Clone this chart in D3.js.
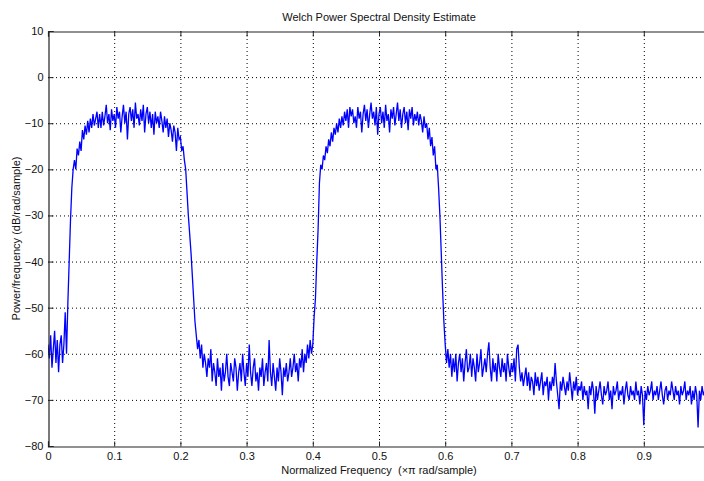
<!DOCTYPE html>
<html>
<head>
<meta charset="utf-8">
<script src="https://cdn.jsdelivr.net/npm/d3@7"></script>
<style>
  body { margin: 0; background: #fff; }
  svg { display: block; font-family: "Liberation Sans", Arial, sans-serif; }
</style>
</head>
<body>
<div id="chart"></div>
<script>
// frequency grid step (x pi rad/sample) and PSD values (dB/rad/sample)
const freqStep = 0.002;
const psd = [
  -58, -61, -56, -63, -59, -55, -62, -57, -64, -58,           // 0.00
  -56, -62, -58, -51, -60, -49, -40, -31, -24, -20,           // 0.02
  -18, -20, -15.5, -17, -14, -16, -11.5, -13.5, -10.5, -12.5, // 0.04
  -9.5, -12, -9, -11, -8, -10.5, -9, -7.5, -11, -8,           // 0.06
  -11, -7.5, -10.5, -8.5, -6, -10, -8, -11.5, -7, -9.5,       // 0.08
  -8, -11, -6.5, -9, -7.5, -12, -8.5, -6, -10, -7.5,          // 0.10
  -13.5, -8, -6.5, -9.5, -7, -11, -5.5, -9, -8, -10.5,        // 0.12
  -7, -9.5, -6, -12, -8, -6.5, -10, -7.5, -11, -8,            // 0.14
  -12.5, -7.5, -10, -8.5, -11, -7.5, -9.5, -12, -8.5, -11,    // 0.16
  -9, -13, -10, -11.5, -14, -10.5, -12, -16, -11, -13.5,      // 0.18
  -13, -16, -15, -18, -20, -25, -30, -34, -38, -43,           // 0.20
  -48, -53, -56, -59, -57, -61, -58, -63, -60, -62,           // 0.22
  -65, -61, -63, -59, -66, -62, -64, -67, -61, -65,           // 0.24
  -63, -68, -62, -66, -64, -60, -65, -67, -62, -64,           // 0.26
  -66, -61, -63, -68, -64, -62, -66, -60, -64, -67,           // 0.28
  -62, -65, -58, -64, -67, -63, -61, -66, -64, -68,           // 0.30
  -63, -65, -61, -67, -64, -62, -66, -57, -64, -67,           // 0.32
  -62, -65, -68, -63, -66, -61, -64, -69, -63, -65,           // 0.34
  -62, -66, -64, -61, -65, -63, -60, -64, -62, -66,           // 0.36
  -61, -63, -59, -64, -60, -62, -58, -61, -57, -60,           // 0.38
  -58, -52, -48, -40, -33, -23, -19, -20, -17, -18,           // 0.40
  -15, -16.5, -13.5, -15, -12, -14, -11, -12.5, -10, -12,     // 0.42
  -9, -11, -8.5, -10.5, -7.5, -9.5, -7, -11, -6.5, -8.5,      // 0.44
  -7, -10, -8.5, -11, -6.5, -9, -7.5, -12, -8, -6,            // 0.46
  -9.5, -7, -11, -8, -5.5, -9, -7.5, -10.5, -6.5, -12.5,      // 0.48
  -8, -6.5, -10, -7.5, -11, -6, -9.5, -8, -12, -7,            // 0.50
  -9, -6.5, -10.5, -8, -5.5, -9.5, -7, -11, -8, -6.5,         // 0.52
  -10, -7.5, -11.5, -7, -9, -6.5, -10.5, -8, -9.5, -7.5,      // 0.54
  -10.5, -8, -9.5, -12, -8.5, -11, -10, -13.5, -11, -15,      // 0.56
  -13, -17, -15, -20, -19, -24, -30, -38, -46, -53,           // 0.58
  -58, -62, -59, -63, -60, -65, -61, -64, -60, -66,           // 0.60
  -62, -60, -64, -61, -66, -62, -59, -64, -63, -60,           // 0.62
  -65, -61, -63, -66, -60, -64, -62, -59, -65, -63,           // 0.64
  -61, -64, -60, -57.5, -63, -66, -61, -64, -62, -66,         // 0.66
  -60, -63, -65, -61, -64, -62, -66, -60, -63, -65,           // 0.68
  -62, -64, -61, -66, -59, -58, -63, -66, -64, -67,           // 0.70
  -65, -63, -67, -64, -68, -65, -66, -69, -64, -67,           // 0.72
  -65, -68, -66, -64, -69, -66, -67, -65, -70, -66,           // 0.74
  -68, -65, -67, -62, -66, -69, -72, -66, -68, -65,           // 0.76
  -67, -69, -66, -68, -64, -67, -70, -66, -68, -65,           // 0.78
  -69, -67, -68, -66, -70, -67, -69, -68, -72, -67,           // 0.80
  -69, -66, -68, -73, -67, -70, -68, -66, -69, -71,           // 0.82
  -67, -69, -68, -66, -70, -68, -72, -67, -69, -68,           // 0.84
  -66, -70, -68, -69, -67, -71, -68, -66, -69, -70,           // 0.86
  -67, -69, -68, -70, -66, -69, -68, -71, -67, -69,           // 0.88
  -75.5, -68, -70, -67, -69, -68, -66, -70, -68, -69,         // 0.90
  -67, -70, -68, -66, -69, -71, -68, -67, -70, -68,           // 0.92
  -69, -66, -68, -70, -67, -69, -68, -71, -67, -69,           // 0.94
  -68, -66, -70, -68, -69, -67, -71, -68, -70, -67,           // 0.96
  -69, -76, -68, -70, -67, -69, -68, -70, -67, -69            // 0.98
];
const xTicks = [0, 0.1, 0.2, 0.3, 0.4, 0.5, 0.6, 0.7, 0.8, 0.9];
const yTicks = [-80, -70, -60, -50, -40, -30, -20, -10, 0, 10];

const width = 704, height = 481;
const plotLeft = 48, plotTop = 31, plotRight = 710, plotBottom = 446;

const svg = d3.select("#chart").append("svg")
  .attr("width", width)
  .attr("height", height);

const x = d3.scaleLinear().domain([0, 1]).range([plotLeft, plotRight]);
const y = d3.scaleLinear().domain([-80, 10]).range([plotBottom, plotTop]);

//Grid lines, MATLAB style dotted
svg.append("g").selectAll("line")
  .data(xTicks.slice(1))
  .enter().append("line")
  .attr("x1", d => x(d) + 0.5).attr("x2", d => x(d) + 0.5)
  .attr("y1", plotTop).attr("y2", plotBottom)
  .attr("stroke", "#000").attr("stroke-width", 1)
  .attr("stroke-dasharray", "1,3");
svg.append("g").selectAll("line")
  .data(yTicks.slice(1, -1))
  .enter().append("line")
  .attr("y1", d => y(d) + 0.5).attr("y2", d => y(d) + 0.5)
  .attr("x1", plotLeft).attr("x2", plotRight)
  .attr("stroke", "#000").attr("stroke-width", 1)
  .attr("stroke-dasharray", "1,3");

//PSD line
svg.append("clipPath").attr("id", "clip")
  .append("rect").attr("x", plotLeft).attr("y", plotTop)
  .attr("width", plotRight - plotLeft).attr("height", plotBottom - plotTop);

const line = d3.line()
  .x((d, i) => x(i * freqStep))
  .y(d => y(d));

svg.append("path")
  .datum(psd)
  .attr("clip-path", "url(#clip)")
  .attr("fill", "none")
  .attr("stroke", "#0000ff")
  .attr("stroke-width", 1.3)
  .attr("d", line);

//Axes with inward ticks
const xAxis = d3.axisBottom(x).tickValues(xTicks).tickSize(-5).tickPadding(6)
  .tickFormat(d => d === 0 ? "0" : d3.format(".1f")(d));
const yAxis = d3.axisLeft(y).tickValues(yTicks).tickSize(-5).tickPadding(5)
  .tickFormat(d3.format("d"));

const gx = svg.append("g").attr("transform", `translate(0,${plotBottom + 0.5})`).call(xAxis);
const gy = svg.append("g").attr("transform", `translate(${plotLeft + 0.5},0)`).call(yAxis);
const gt = svg.append("g").attr("transform", `translate(0,${plotTop + 0.5})`)
  .call(d3.axisTop(x).tickValues(xTicks).tickSize(-5).tickFormat(""));

[gx, gy, gt].forEach(g => {
  g.select(".domain").attr("stroke", "#222").attr("stroke-width", 1.2);
  g.selectAll(".tick line").attr("stroke", "#222");
  g.selectAll(".tick text").attr("fill", "#111")
    .style("font-size", "11px")
    .style("font-family", "'Liberation Sans', Arial, sans-serif");
});

//Titles
svg.append("text")
  .attr("x", (plotLeft + plotRight) / 2).attr("y", 21)
  .attr("text-anchor", "middle")
  .style("font-size", "11px").attr("fill", "#111")
  .text("Welch Power Spectral Density Estimate");

svg.append("text")
  .attr("x", (plotLeft + plotRight) / 2).attr("y", 474)
  .attr("text-anchor", "middle")
  .style("font-size", "11px").attr("fill", "#111")
  .attr("xml:space", "preserve")
  .text("Normalized Frequency  (\u00d7\u03c0 rad/sample)");

svg.append("text")
  .attr("transform", `translate(20,${(plotTop + plotBottom) / 2}) rotate(-90)`)
  .attr("text-anchor", "middle")
  .style("font-size", "11px").attr("fill", "#111")
  .text("Power/frequency (dB/rad/sample)");
</script>
</body>
</html>
